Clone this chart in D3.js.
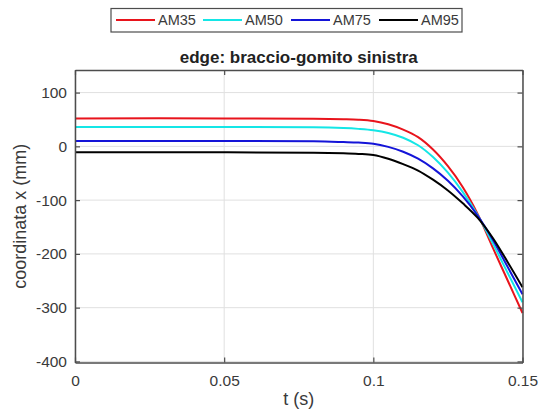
<!DOCTYPE html>
<html><head><meta charset="utf-8">
<script src="https://cdn.jsdelivr.net/npm/d3@7"></script>
<style>body{margin:0;background:#fff}svg{display:block}text{font-family:"Liberation Sans",Arial,sans-serif}</style>
</head><body>
<svg id="c" width="546" height="416"></svg>
<script>
const times = [0, 0.05, 0.08, 0.09, 0.095, 0.1, 0.105, 0.11, 0.115, 0.12, 0.125, 0.13, 0.135, 0.14, 0.145, 0.15];
const am35 = [52, 52, 51.5, 50.5, 49.5, 47, 41, 31, 17, -6, -37, -76, -126, -188, -249, -310];
const am50 = [36, 36, 35.5, 34, 32.5, 30, 25, 16, 2, -20, -49, -85, -128, -180, -235, -290];
const am75 = [10, 10, 9.5, 8, 7, 5, -1, -10, -23, -41, -64, -93, -129, -173, -224, -275];
const am95 = [-11, -11, -12, -13, -14, -16, -23, -33, -45, -62, -82, -106, -133, -170, -215, -262];
const seriesNames = ["AM35", "AM50", "AM75", "AM95"];
const seriesColors = ["#e8141c", "#14e6e6", "#1414d8", "#000000"];
const xTicks = [0, 0.05, 0.1, 0.15];
const xTickLabels = ["0", "0.05", "0.1", "0.15"];
const yTicks = [-400, -300, -200, -100, 0, 100];
const yTickLabels = ["-400", "-300", "-200", "-100", "0", "100"];
const titleText = "edge: braccio-gomito sinistra";
const xLabel = "t (s)";
const yLabel = "coordinata x (mm)";

const svg = d3.select("#c");
const L = 75, R = 522.5, T = 70, B = 362.5;
const x = d3.scaleLinear().domain([0, 0.15]).range([L, R]);
const y = d3.scaleLinear().domain([-402, 142]).range([B, T]);
const axisCol = "#4d4d4d", textCol = "#3a3a3a";

// grid
const g = svg.append("g");
g.selectAll(".gx").data(xTicks).enter().append("line")
  .attr("x1", d => x(d)).attr("x2", d => x(d)).attr("y1", T).attr("y2", B)
  .attr("stroke", "#e0e0e0").attr("stroke-width", 1);
g.selectAll(".gy").data(yTicks).enter().append("line")
  .attr("y1", d => y(d)).attr("y2", d => y(d)).attr("x1", L).attr("x2", R)
  .attr("stroke", "#e0e0e0").attr("stroke-width", 1);

// lines
const allSeries = [am35, am50, am75, am95];
const line = d3.line().x(d => x(d[0])).y(d => y(d[1])).curve(d3.curveCatmullRom.alpha(0.5));
allSeries.forEach((s, i) => {
  svg.append("path").datum(times.map((t, j) => [t, s[j]]))
    .attr("d", line).attr("fill", "none").attr("stroke", seriesColors[i]).attr("stroke-width", 2);
});

// axes with inward ticks
const axB = d3.axisBottom(x).tickValues(xTicks).tickFormat((d, i) => xTickLabels[i]).tickSizeInner(-5).tickSizeOuter(0).tickPadding(12);
const axT = d3.axisTop(x).tickValues(xTicks).tickFormat("").tickSizeInner(-5).tickSizeOuter(0);
const axL = d3.axisLeft(y).tickValues(yTicks).tickFormat((d, i) => yTickLabels[i]).tickSizeInner(-5).tickSizeOuter(0).tickPadding(8);
const axR = d3.axisRight(y).tickValues(yTicks).tickFormat("").tickSizeInner(-5).tickSizeOuter(0);
function style(sel) {
  sel.selectAll("path").attr("stroke", axisCol).attr("stroke-width", 1.5);
  sel.selectAll("line").attr("stroke", axisCol).attr("stroke-width", 1.2);
  sel.selectAll("text").attr("fill", textCol).style("font-size", "15.5px").attr("font-family", "Liberation Sans, Arial, sans-serif");
}
svg.append("g").attr("transform", `translate(0,${B})`).call(axB).call(style);
svg.append("g").attr("transform", `translate(0,${T})`).call(axT).call(style);
svg.append("g").attr("transform", `translate(${L},0)`).call(axL).call(style);
svg.append("g").attr("transform", `translate(${R},0)`).call(axR).call(style);

// title and labels
svg.append("text").attr("x", (L + R) / 2).attr("y", 63).attr("text-anchor", "middle")
  .attr("font-weight", "bold").style("font-size", "17px").attr("fill", "#222").text(titleText);
svg.append("text").attr("x", (L + R) / 2).attr("y", 405).attr("text-anchor", "middle")
  .style("font-size", "18px").attr("fill", textCol).text(xLabel);
svg.append("text").attr("transform", `translate(26,${(T + B) / 2}) rotate(-90)`).attr("text-anchor", "middle")
  .style("font-size", "18px").attr("fill", textCol).text(yLabel);

// legend
const leg = svg.append("g");
leg.append("rect").attr("x", 111).attr("y", 8.5).attr("width", 351).attr("height", 23.5)
  .attr("fill", "#fff").attr("stroke", "#4d4d4d").attr("stroke-width", 1.2);
const legX = [116, 203, 291, 379];
seriesNames.forEach((n, i) => {
  leg.append("line").attr("x1", legX[i]).attr("x2", legX[i] + 39).attr("y1", 20).attr("y2", 20)
    .attr("stroke", seriesColors[i]).attr("stroke-width", 2);
  leg.append("text").attr("x", legX[i] + 42).attr("y", 25).style("font-size", "14.5px").attr("fill", textCol).text(n);
});
</script>
</body></html>
